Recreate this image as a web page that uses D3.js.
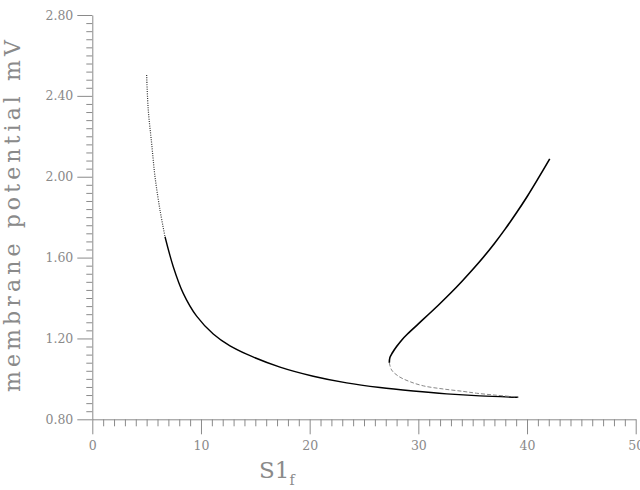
<!DOCTYPE html>
<html><head><meta charset="utf-8">
<script src="https://cdn.jsdelivr.net/npm/d3@7"></script>
<style>html,body{margin:0;padding:0;background:#fff;}svg{display:block;}</style>
</head><body>
<svg id="c" width="640" height="490"></svg>
<script>
// Stable lower branch (steep, sparsely sampled top part)
const steepS = [5.0, 5.15, 5.46, 5.77, 6.23, 6.69];
const steepV = [2.503, 2.33, 2.165, 2.00, 1.835, 1.703];
// Stable lower branch (continued)
const lowerS = [6.69, 7.45, 8.37, 9.60, 11.13, 12.67, 14.2, 17.27, 20.33, 23.4, 26.47, 29.53, 32.6, 35.67, 39.19];
const lowerV = [1.703, 1.555, 1.423, 1.310, 1.222, 1.163, 1.122, 1.058, 1.013, 0.980, 0.957, 0.940, 0.926, 0.916, 0.909];
// Unstable middle branch (dashed)
const unstS = [27.33, 27.54, 28.2, 29.23, 30.5, 32.29, 34.13, 35.36, 37.2, 39.19];
const unstV = [1.08, 1.044, 1.012, 0.986, 0.965, 0.950, 0.938, 0.929, 0.919, 0.910];
// Upper stable branch
const upperS = [27.33, 27.38, 27.6, 28.0, 28.5, 29.0, 30.0, 31.0, 32.0, 33.0, 34.0, 35.0, 36.0, 37.0, 38.0, 39.0, 40.0, 41.0, 42.09];
const upperV = [1.08, 1.105, 1.128, 1.160, 1.194, 1.222, 1.272, 1.322, 1.373, 1.426, 1.482, 1.541, 1.603, 1.670, 1.742, 1.819, 1.901, 1.989, 2.088];

const xMajor = [0, 10, 20, 30, 40, 50];
const yMajor = [0.80, 1.20, 1.60, 2.00, 2.40, 2.80];
const xLabel = "S1";
const xSub = "f";
const yLabel = "membrane potential mV";

const svg = d3.select("#c");
const x = d3.scaleLinear().domain([0, 50]).range([92.3, 635.7]);
const y = d3.scaleLinear().domain([0.8, 2.8]).range([419.3, 15]);
const axisCol = "#8a8a8a";

// X axis
const xMinor = d3.range(0, 50.01, 1).filter(v => v % 10 !== 0);
const gx = svg.append("g").attr("transform", `translate(0,${y(0.8)})`);
gx.call(d3.axisBottom(x).tickValues(xMinor).tickSize(7).tickFormat(""));
gx.call(g => g.selectAll(".domain").remove());
const gx2 = svg.append("g").attr("transform", `translate(0,${y(0.8)})`);
gx2.call(d3.axisBottom(x).tickValues(xMajor).tickSize(15).tickSizeOuter(0).tickPadding(7).tickFormat(d3.format("d")));
[gx, gx2].forEach(g => {
  g.selectAll("line,path").attr("stroke", axisCol).attr("stroke-width", 1);
  g.selectAll("text").attr("fill", axisCol).attr("font-family", "DejaVu Serif").attr("font-size", 12.5);
});

// Y axis
const yMinor = d3.range(0, 50).map(i => +(0.8 + i * 0.04).toFixed(2)).filter((v, i) => i % 10 !== 0);
const gy = svg.append("g").attr("transform", `translate(${x(0)},0)`);
gy.call(d3.axisLeft(y).tickValues(yMinor).tickSize(6).tickFormat(""));
gy.call(g => g.selectAll(".domain").remove());
const gy2 = svg.append("g").attr("transform", `translate(${x(0)},0)`);
gy2.call(d3.axisLeft(y).tickValues(yMajor).tickSize(15).tickSizeOuter(0).tickPadding(4).tickFormat(d3.format(".2f")));
[gy, gy2].forEach(g => {
  g.selectAll("line,path").attr("stroke", axisCol).attr("stroke-width", 1);
  g.selectAll("text").attr("fill", axisCol).attr("font-family", "DejaVu Serif").attr("font-size", 12.5);
});

// Axis titles
svg.append("text")
  .attr("transform", "translate(20,216) rotate(-90)")
  .attr("text-anchor", "middle")
  .attr("font-family", "DejaVu Serif").attr("font-size", 22)
  .attr("fill", axisCol)
  .attr("textLength", 352).attr("lengthAdjust", "spacing")
  .text(yLabel);
const xt = svg.append("text").attr("x", 259).attr("y", 478)
  .attr("font-family", "DejaVu Serif").attr("font-size", 23).attr("fill", axisCol);
xt.append("tspan").text(xLabel);
xt.append("tspan").attr("font-size", 14).attr("dy", 7).text(xSub);

// Curves
const line = d3.line().x(d => x(d[0])).y(d => y(d[1])).curve(d3.curveCatmullRom.alpha(0.5));
const zip = (a, b) => a.map((v, i) => [v, b[i]]);
const plot = svg.append("g").attr("fill", "none");
plot.append("path").attr("d", line(zip(steepS, steepV)))
  .attr("stroke", "#333").attr("stroke-width", 1.2).attr("stroke-dasharray", "1,1.3");
plot.append("path").attr("d", line(zip(lowerS, lowerV)))
  .attr("stroke", "#000").attr("stroke-width", 1.4);
plot.append("path").attr("d", line(zip(unstS, unstV)))
  .attr("stroke", "#888").attr("stroke-width", 1).attr("stroke-dasharray", "4,2");
plot.append("path").attr("d", line(zip(upperS, upperV)))
  .attr("stroke", "#000").attr("stroke-width", 1.6);
</script>
</body></html>
